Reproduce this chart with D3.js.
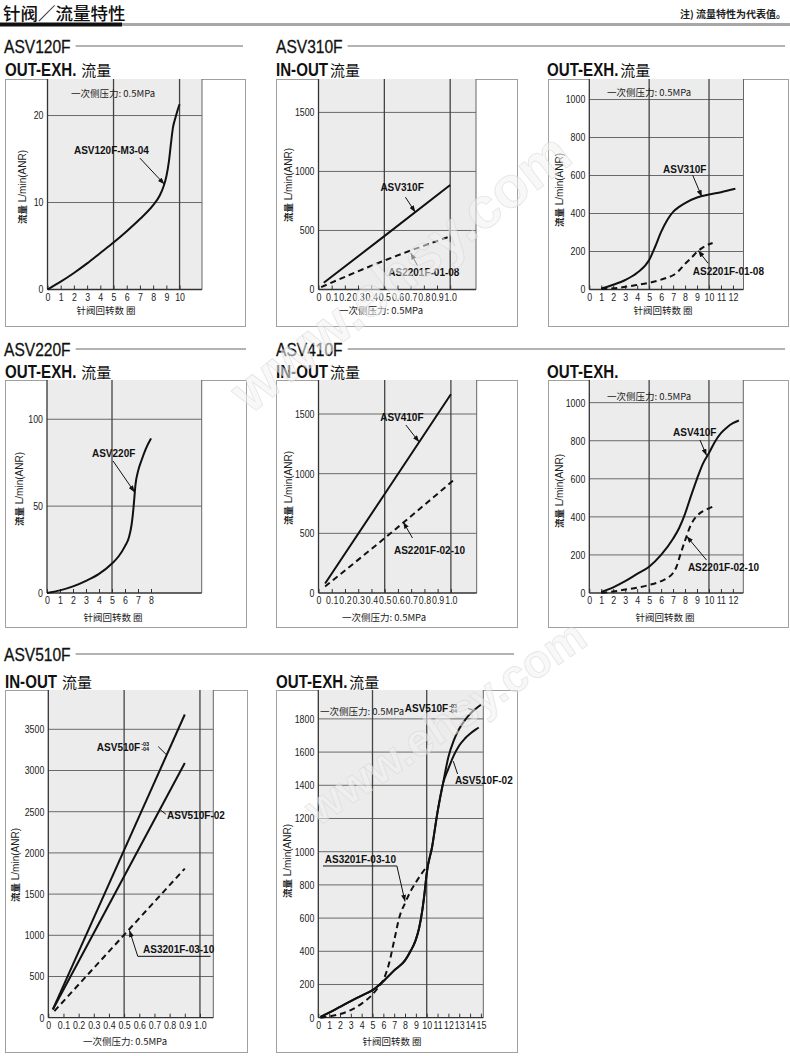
<!DOCTYPE html>
<html><head><meta charset="utf-8">
<script src="https://cdn.jsdelivr.net/npm/d3@7"></script>
<style>
body{margin:0;background:#fff;}
svg{display:block;}
</style></head><body>
<svg id="c" width="790" height="1056"></svg>
<script>
// ================= DATA =================
// Tick label lists
const turnTicks10 = [0,1,2,3,4,5,6,7,8,9,10];
const turnTicks8  = [0,1,2,3,4,5,6,7,8];
const turnTicks12 = [0,1,2,3,4,5,6,7,8,9,10,11,12];
const turnTicks15 = [0,1,2,3,4,5,6,7,8,9,10,11,12,13,14,15];
const pressTicks  = [0,0.1,0.2,0.3,0.4,0.5,0.6,0.7,0.8,0.9,1.0];
const flowTicksA  = [0,10,20];
const flowTicksB  = [0,500,1000,1500];
const flowTicksC  = [0,200,400,600,800,1000];
const flowTicksD  = [0,50,100];
const flowTicksG  = [0,500,1000,1500,2000,2500,3000,3500];
const flowTicksH  = [0,200,400,600,800,1000,1200,1400,1600,1800];

// ASV120F OUT-EXH. (needle turns -> L/min(ANR))
const asv120Turns = [0,1,2,3,4,5,6,7,8,8.5,8.8,9.0,9.2,9.35,9.5,9.7,9.85,10];
const asv120Flow  = [0,0.9,1.9,3.0,4.2,5.4,6.7,8.1,9.7,10.8,11.9,13.0,14.8,16.8,18.6,19.8,20.6,21.3];

// ASV310F IN-OUT (supply pressure MPa -> L/min)
const asv310InPress = [0.04,0.5,1.0];
const asv310InFlow  = [57,452,885];
const as2201f0108InPress = [0.02,0.5,1.0];
const as2201f0108InFlow  = [20,245,450];

// ASV310F OUT-EXH.
const asv310OutTurns = [1,2,3,4,5,5.5,6,6.5,7,7.5,8,9,10,11,12.2];
const asv310OutFlow  = [5,25,50,88,155,225,303,365,409,435,455,484,500,512,530];
const as2201f0108OutTurns = [1,2,3,4,5,6,6.5,7,7.5,8,8.5,9,9.5,10,10.3];
const as2201f0108OutFlow  = [2,6,14,24,35,52,62,75,100,135,165,198,222,238,245];

// ASV220F OUT-EXH.
const asv220Turns = [0,1,2,3,4,5,5.5,6,6.3,6.5,6.6,6.7,6.8,7,7.3,7.6,8];
const asv220Flow  = [0,1.5,3.8,7,11,17,21,27,32,39,45,53,62,70,77,83,89];

// ASV410F IN-OUT
const asv410InPress = [0.05,0.5,1.0];
const asv410InFlow  = [80,830,1665];
const as2201f0210InPress = [0.05,0.5,1.02];
const as2201f0210InFlow  = [55,460,945];

// ASV410F OUT-EXH.
const asv410OutTurns = [1,2,3,4,5,6,7,7.5,8,8.5,9,9.5,10,10.5,11,11.5,12,12.5];
const asv410OutFlow  = [5,30,62,100,138,200,285,340,416,510,600,680,735,795,840,870,892,906];
const as2201f0210OutTurns = [1,2,3,4,5,6,6.5,7,7.3,7.6,8,8.5,9,9.5,10,10.5];
const as2201f0210OutFlow  = [0,8,18,28,42,62,78,105,140,200,275,360,405,430,445,458];

// ASV510F IN-OUT
const asv510InPress = [0.03,0.9];
const asv510F0304InFlow = [100,3680];
const asv510F02InFlow   = [100,3090];
const as3201InPress = [0.04,0.9];
const as3201InFlow  = [80,1810];

// ASV510F OUT-EXH.
const asv510F0304OutTurns = [0.2,1,2,3,4,5,6,7,8,8.5,9,9.3,9.6,9.8,10,10.5,11,11.5,12,12.5,13,13.5,14,14.5,15];
const asv510F0304OutFlow  = [5,30,65,100,133,166,220,285,345,400,470,540,650,750,870,1030,1240,1410,1570,1670,1740,1790,1830,1860,1885];
const asv510F02OutTurns = [0.2,1,2,3,4,5,6,7,8,8.5,9,9.3,9.6,9.8,10,10.5,11,11.5,12,12.5,13,13.5,14,14.5,14.8];
const asv510F02OutFlow  = [5,30,65,100,133,166,220,285,345,400,470,540,650,750,870,1030,1240,1410,1500,1580,1640,1680,1710,1735,1748];
const as3201OutTurns = [0.2,1,2,3,4,5,5.5,6,6.5,7,7.5,8,8.5,9,9.5,10];
const as3201OutFlow  = [0,8,22,46,85,140,180,228,320,465,610,690,760,815,865,910];

// ================= DRAWING =================
const SANS = "'Liberation Sans',Arial,'Noto Sans CJK SC',sans-serif";
const CJK = "'Noto Sans CJK SC','Noto Sans CJK JP',sans-serif";

const svg = d3.select('#c');
const defs = svg.append('defs');
defs.append('marker').attr('id','arr').attr('viewBox','0 0 8 6')
  .attr('refX',8).attr('refY',3).attr('markerWidth',7).attr('markerHeight',5)
  .attr('markerUnits','userSpaceOnUse').attr('orient','auto')
  .append('path').attr('d','M0,0 L8,3 L0,6 Z').attr('fill','#111');

const zip = (a,b)=>a.map((v,i)=>[v,b[i]]);
const fmtP = v => v===0 ? '0' : v.toFixed(1);
const fmtI = v => String(v);
function condense(sel, f){
  sel.each(function(){
    const w = this.getComputedTextLength();
    if (w>0) d3.select(this).attr('textLength', (w*f).toFixed(2)).attr('lengthAdjust','spacingAndGlyphs');
  });
}
// text horizontally compressed through a group transform; returns rendered width
function narrowText(x, y, txt, size, weight, f, stroke){
  const g = svg.append('g').attr('transform',`translate(${x},${y}) scale(${f},1)`);
  const t = g.append('text').attr('x',0).attr('y',0).attr('font-family',SANS)
    .attr('font-size',size).attr('font-weight',weight).attr('fill','#111').text(txt);
  if (stroke) t.attr('stroke','#111').attr('stroke-width',stroke);
  return t.node().getComputedTextLength()*f;
}

// ----- page header -----
svg.append('text').attr('x',3).attr('y',20)
  .attr('font-family',CJK).attr('font-size',17.5).attr('font-weight',500).attr('fill','#111')
  .text('针阀／流量特性');
svg.append('rect').attr('x',0).attr('y',23).attr('width',790).attr('height',3).attr('fill','#a8a8a8');
svg.append('rect').attr('x',0).attr('y',22.5).attr('width',122).attr('height',4).attr('fill','#111');
svg.append('text').attr('x',786).attr('y',18).attr('text-anchor','end')
  .attr('font-family',CJK).attr('font-size',10).attr('font-weight',700).attr('fill','#222')
  .text('注) 流量特性为代表值。');

// ----- section headers -----
const sections = [
  {text:'ASV120F', x:4, y:53, lineEnd:243},
  {text:'ASV310F', x:276, y:53, lineEnd:785},
  {text:'ASV220F', x:4, y:356, lineEnd:246},
  {text:'ASV410F', x:276, y:356, lineEnd:785},
  {text:'ASV510F', x:4, y:661, lineEnd:514}
];
sections.forEach(s=>{
  const w = narrowText(s.x, s.y, s.text, 19, 400, 0.82, 0.3);
  svg.append('line').attr('x1',s.x+w+5).attr('x2',s.lineEnd).attr('y1',s.y-7).attr('y2',s.y-7)
    .attr('stroke','#9a9a9a').attr('stroke-width',1.3);
});

const subtitles = [
  {x:5,y:76,main:'OUT-EXH.',cjk:' 流量'},
  {x:276,y:76,main:'IN-OUT',cjk:'流量'},
  {x:547,y:76,main:'OUT-EXH.',cjk:'流量'},
  {x:5,y:378,main:'OUT-EXH.',cjk:' 流量'},
  {x:276,y:378,main:'IN-OUT',cjk:'流量'},
  {x:547,y:378,main:'OUT-EXH.',cjk:''},
  {x:5,y:688,main:'IN-OUT',cjk:' 流量'},
  {x:276,y:688,main:'OUT-EXH.',cjk:'流量'}
];
subtitles.forEach(s=>{
  const w = narrowText(s.x, s.y, s.main, 18, 700, 0.84, 0);
  if (s.cjk) svg.append('text').attr('x',s.x+w+(s.cjk.startsWith(' ')?5:2)).attr('y',s.y)
    .attr('font-family',CJK).attr('font-size',15).attr('fill','#111').text(s.cjk.trim());
});

// ----- panels -----
const panels = [
  {box:[5,79,245,326], left:47.5,right:202,bottom:289.5,top:79, xMax:11.7, yMax:24.2,
   xTicks:turnTicks10, fmt:fmtI, yTicks:flowTicksA, xGrid:[5,10],
   xTitle:'针阀回转数 圈', xTitlePos:[106,314], yTitlePos:[20,187], note:[1.78,22.1],
   series:[{x:asv120Turns,y:asv120Flow}],
   labels:[{text:'ASV120F-M3-04',x:2.0,y:15.6,tail:[7.0,15.1],tip:[8.85,12.1]}]},
  {box:[276,79,517,326], left:318.5,right:476,bottom:289.5,top:79, xMax:1.196, yMax:1783,
   xTicks:pressTicks, fmt:fmtP, yTicks:flowTicksB, xGrid:[0.5,1.0],
   xTitle:'一次侧压力: 0.5MPa', xTitlePos:[381,314], yTitlePos:[286,185],
   series:[{x:asv310InPress,y:asv310InFlow},{x:as2201f0108InPress,y:as2201f0108InFlow,dash:true}],
   labels:[{text:'ASV310F',x:0.47,y:833,tail:[0.66,782],tip:[0.735,655]},
           {text:'AS2201F-01-08',x:0.53,y:113,tail:[0.75,206],tip:[0.7,310]}]},
  {box:[548,79,788,326], left:589.3,right:743.5,bottom:289.5,top:79, xMax:12.88, yMax:1108,
   xTicks:turnTicks12, fmt:fmtI, yTicks:flowTicksC, xGrid:[5,10],
   xTitle:'针阀回转数 圈', xTitlePos:[663,314], yTitlePos:[557,190], note:[1.48,1020],
   series:[{x:asv310OutTurns,y:asv310OutFlow},{x:as2201f0108OutTurns,y:as2201f0108OutFlow,dash:true}],
   labels:[{text:'ASV310F',x:6.16,y:615,tail:[8.64,601],tip:[9.4,488]},
           {text:'AS2201F-01-08',x:8.65,y:78,tail:[9.92,138],tip:[9.1,205]}]},
  {box:[5,380,246,627], left:47,right:201.7,bottom:593,top:380, xMax:11.9, yMax:122.6,
   xTicks:turnTicks8, fmt:fmtI, yTicks:flowTicksD, xGrid:[5],
   xTitle:'针阀回转数 圈', xTitlePos:[113,620.5], yTitlePos:[17,489],
   series:[{x:asv220Turns,y:asv220Flow}],
   labels:[{text:'ASV220F',x:3.46,y:78,tail:[5.08,76],tip:[6.74,58]}]},
  {box:[276,380,517,627], left:318.5,right:476.7,bottom:593,top:380, xMax:1.195, yMax:1785,
   xTicks:pressTicks, fmt:fmtP, yTicks:flowTicksB, xGrid:[0.5,1.0],
   xTitle:'一次侧压力: 0.5MPa', xTitlePos:[384,620.5], yTitlePos:[286,488],
   series:[{x:asv410InPress,y:asv410InFlow},{x:as2201f0210InPress,y:as2201f0210InFlow,dash:true}],
   labels:[{text:'ASV410F',x:0.466,y:1442,tail:[0.66,1408],tip:[0.76,1265]},
           {text:'AS2201F-02-10',x:0.57,y:327,tail:[0.71,461],tip:[0.64,595]}]},
  {box:[548,380,788,627], left:589.3,right:743.3,bottom:593,top:380, xMax:12.87, yMax:1119,
   xTicks:turnTicks12, fmt:fmtI, yTicks:flowTicksC, xGrid:[5,10],
   xTitle:'针阀回转数 圈', xTitlePos:[665,620.5], yTitlePos:[557,491], note:[1.48,1014],
   series:[{x:asv410OutTurns,y:asv410OutFlow},{x:as2201f0210OutTurns,y:as2201f0210OutFlow,dash:true}],
   labels:[{text:'ASV410F',x:7.0,y:825,tail:[9.25,804],tip:[9.8,722]},
           {text:'AS2201F-02-10',x:8.24,y:116,tail:[9.8,173],tip:[8.14,298]}]},
  {box:[5,690,247,1052], left:48.3,right:213.3,bottom:1017.7,top:690, xMax:1.088, yMax:3977,
   xTicks:pressTicks, fmt:fmtP, yTicks:flowTicksG, xGrid:[0.5,1.0],
   xTitle:'一次侧压力: 0.5MPa', xTitlePos:[125,1045], yTitlePos:[13,865],
   series:[{x:asv510InPress,y:asv510F0304InFlow},{x:asv510InPress,y:asv510F02InFlow},
           {x:as3201InPress,y:as3201InFlow,dash:true}],
   labels:[{text:'ASV510F',stack:['-03','-04'],x:0.32,y:3240,tail:[0.725,3290],tip:[0.78,3190],noArrow:true},
           {text:'ASV510F-02',x:0.783,y:2415,tail:[0.775,2470],tip:[0.74,2520],noArrow:true},
           {text:'AS3201F-03-10',x:0.625,y:790,path:[[1.07,745],[0.59,745],[0.535,1060]]}]},
  {box:[276,690,517,1052], left:318.3,right:483.3,bottom:1017.7,top:690, xMax:15.22, yMax:1974,
   xTicks:turnTicks15, fmt:fmtI, yTicks:flowTicksH, xGrid:[5,10],
   xTitle:'针阀回转数 圈', xTitlePos:[392,1045], yTitlePos:[285,861], note:[0.16,1823],
   series:[{x:asv510F0304OutTurns,y:asv510F0304OutFlow},{x:asv510F02OutTurns,y:asv510F02OutFlow},
           {x:as3201OutTurns,y:as3201OutFlow,dash:true}],
   labels:[{text:'ASV510F',stack:['-03','-04'],x:7.98,y:1840,tail:[13.85,1862],tip:[14.35,1850],noArrow:true},
           {text:'ASV510F-02',x:12.6,y:1407,tail:[12.85,1468],tip:[12.45,1545],noArrow:true},
           {text:'AS3201F-03-10',x:0.6,y:930,path:[[0.43,914],[7.25,914],[8.0,700]]}]}
];

panels.forEach(p=>{
  const g = svg.append('g');
  const b = p.box;
  g.append('rect').attr('x',b[0]+0.5).attr('y',b[1]+0.5).attr('width',b[2]-b[0]).attr('height',b[3]-b[1])
    .attr('fill','#fff').attr('stroke','#a0a0a0').attr('stroke-width',1);
  const x = d3.scaleLinear().domain([0,p.xMax]).range([p.left,p.right]);
  const y = d3.scaleLinear().domain([0,p.yMax]).range([p.bottom,p.top]);
  // plot background
  g.append('rect').attr('x',x(0)).attr('y',y(p.yMax)).attr('width',x(p.xMax)-x(0))
    .attr('height',y(0)-y(p.yMax)).attr('fill','#ececec');
  // horizontal grid
  g.selectAll('.hg').data(p.yTicks.filter(v=>v>0)).join('line')
    .attr('x1',x(0)).attr('x2',x(p.xMax)).attr('y1',d=>y(d)).attr('y2',d=>y(d))
    .attr('stroke','#6a6a6a').attr('stroke-width',1);
  // vertical grid
  g.selectAll('.vg').data(p.xGrid).join('line')
    .attr('x1',d=>x(d)).attr('x2',d=>x(d)).attr('y1',y(0)).attr('y2',y(p.yMax))
    .attr('stroke','#444').attr('stroke-width',1.3);
  // right border of plot
  g.append('line').attr('x1',x(p.xMax)).attr('x2',x(p.xMax)).attr('y1',y(0)).attr('y2',y(p.yMax))
    .attr('stroke','#666').attr('stroke-width',1);
  // axes lines
  g.append('line').attr('x1',x(0)).attr('x2',x(0)).attr('y1',y(0)).attr('y2',y(p.yMax))
    .attr('stroke','#333').attr('stroke-width',1.3);
  g.append('line').attr('x1',x(0)).attr('x2',x(p.xMax)).attr('y1',y(0)).attr('y2',y(0))
    .attr('stroke','#333').attr('stroke-width',1.3);
  // x axis (inward ticks)
  const xa = g.append('g').attr('transform',`translate(0,${y(0)})`)
    .call(d3.axisBottom(x).tickValues(p.xTicks).tickFormat(p.fmt).tickSize(-4).tickPadding(4));
  xa.select('.domain').remove();
  xa.selectAll('line').attr('stroke','#333');
  xa.selectAll('text').attr('font-family',SANS).attr('font-size',10.5).attr('fill','#222');
  condense(xa.selectAll('text'),0.84);
  // y axis
  const ya = g.append('g').attr('transform',`translate(${x(0)},0)`)
    .call(d3.axisLeft(y).tickValues(p.yTicks).tickFormat(d3.format('d')).tickSize(0).tickPadding(4));
  ya.select('.domain').remove();
  ya.selectAll('text').attr('font-family',SANS).attr('font-size',10.5).attr('fill','#222');
  condense(ya.selectAll('text'),0.84);
  // axis titles
  g.append('text').attr('x',p.xTitlePos[0]).attr('y',p.xTitlePos[1]).attr('text-anchor','middle')
    .attr('font-family',CJK).attr('font-size',9.5).attr('fill','#222').text(p.xTitle);
  const yt = g.append('text').attr('transform',`translate(${p.yTitlePos[0]},${p.yTitlePos[1]}) rotate(-90)`)
    .attr('text-anchor','middle').attr('dy','0.35em').attr('fill','#222');
  yt.append('tspan').attr('font-family',CJK).attr('font-size',9.5).attr('font-weight',700).text('流量');
  yt.append('tspan').attr('font-family',SANS).attr('font-size',10).text(' L/min(ANR)');
  if (p.note) {
    g.append('text').attr('x',x(p.note[0])).attr('y',y(p.note[1]))
      .attr('font-family',CJK).attr('font-size',9.5).attr('fill','#222').text('一次侧压力: 0.5MPa');
  }
  // series
  const line = d3.line().x(d=>x(d[0])).y(d=>y(d[1])).curve(d3.curveMonotoneX);
  p.series.forEach(s=>{
    g.append('path').attr('d',line(zip(s.x,s.y))).attr('fill','none')
      .attr('stroke','#111').attr('stroke-width',2)
      .attr('stroke-dasharray',s.dash?'6,4':null).attr('stroke-linejoin','round');
  });
  // labels
  p.labels.forEach(l=>{
    const t = g.append('text').attr('x',x(l.x)).attr('y',y(l.y))
      .attr('font-family',SANS).attr('font-weight',700).attr('font-size',10).attr('fill','#111').text(l.text);
    if (l.stack) {
      const w = t.node().getComputedTextLength();
      l.stack.forEach((s,i)=>{
        g.append('text').attr('x',x(l.x)+w+1).attr('y',y(l.y)-4.5+i*5)
          .attr('font-family',SANS).attr('font-weight',700).attr('font-size',5.5).attr('fill','#111').text(s);
      });
    }
    if (l.path) {
      g.append('path').attr('d',d3.line()(l.path.map(d=>[x(d[0]),y(d[1])])))
        .attr('fill','none').attr('stroke','#111').attr('stroke-width',1).attr('marker-end','url(#arr)');
    } else {
      g.append('line').attr('x1',x(l.tail[0])).attr('y1',y(l.tail[1]))
        .attr('x2',x(l.tip[0])).attr('y2',y(l.tip[1]))
        .attr('stroke','#111').attr('stroke-width',1)
        .attr('marker-end',l.noArrow?null:'url(#arr)');
    }
  });
});

// ----- watermark -----
const wm = [{cx:400,cy:272,size:58,rot:-38},{cx:445,cy:722,size:46,rot:-34}];
wm.forEach(w=>{
  svg.append('text').attr('transform',`translate(${w.cx},${w.cy}) rotate(${w.rot})`)
    .attr('text-anchor','middle').attr('dy','0.35em')
    .attr('font-family',"'Liberation Sans',sans-serif").attr('font-size',w.size).attr('font-weight',700)
    .attr('fill','#f2f2f2').attr('fill-opacity',0.55).attr('stroke','#d0d0d0').attr('stroke-opacity',0.5)
    .attr('stroke-width',0.8).text('www.ehsy.com');
});
</script>
</body></html>
